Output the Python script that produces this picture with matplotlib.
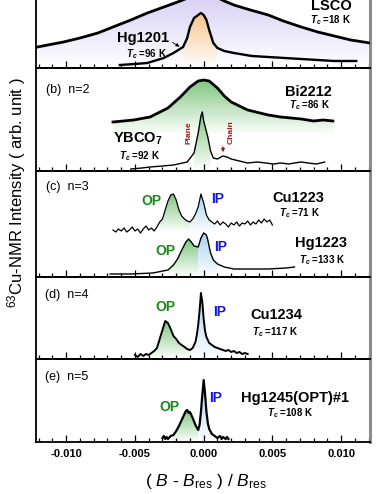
import numpy as np
import matplotlib
matplotlib.use('Agg')
import matplotlib.pyplot as plt
from matplotlib.patches import Polygon, FancyArrowPatch
from matplotlib.colors import LinearSegmentedColormap
from matplotlib.ticker import MultipleLocator

plt.rcParams['font.family'] = ['Liberation Sans', 'DejaVu Sans']
plt.rcParams['mathtext.fontset'] = 'custom'
plt.rcParams['mathtext.rm'] = 'Liberation Sans'
plt.rcParams['mathtext.it'] = 'Liberation Sans:italic'
plt.rcParams['mathtext.bf'] = 'Liberation Sans:bold'
plt.rcParams['mathtext.bfit'] = 'Liberation Sans:italic:bold'

# ---- data: x = (B - Bres)/Bres, y = intensity (arb. unit, offset per panel)
# (a) n=1
lsco_x = [-0.0121, -0.0102, -0.0090, -0.0077, -0.0066, -0.0053, -0.0041, -0.0029, -0.0017, -0.0010,
          -0.0004, 0.0000, 0.0004, 0.0009, 0.0015, 0.0022, 0.0034, 0.0047, 0.0058, 0.0071,
          0.0083, 0.0095, 0.0107, 0.0121]
lsco_y = [21, 26, 30, 35, 41, 48, 55, 61, 67, 71, 74, 75, 74, 71, 67, 63, 58, 53, 47, 41, 36, 32, 28, 25]

hg1201_x = [-0.0061, -0.0050, -0.0041, -0.0029, -0.0022, -0.0015, -0.0012, -0.0010, -0.0007, -0.0004,
            -0.0002, 0.0000, 0.0002, 0.0004, 0.0007, 0.0010, 0.0015, 0.0022, 0.0035, 0.0047,
            0.0071, 0.0095, 0.0111]
hg1201_y = [3, 4, 5, 10, 15, 21, 30, 41, 50, 53, 55, 53, 48, 38, 25, 20, 17, 15, 12, 11, 9, 7, 7]

# (b) n=2
bi2212_x = [-0.0066, -0.0051, -0.0039, -0.0026, -0.0017, -0.0010, -0.0004, 0.0000, 0.0004, 0.0010,
            0.0015, 0.0020, 0.0032, 0.0047, 0.0056, 0.0071, 0.0080, 0.0087, 0.0094]
bi2212_y = [49, 51, 54, 63, 74, 84, 90, 91, 90, 83, 75, 69, 61, 56, 54, 52, 50, 51, 50]

ybco_x = [-0.0053, -0.0045, -0.0039, -0.0030, -0.0022, -0.0012, -0.0007, -0.0004, -0.0002, -0.0001,
          0.0000, 0.0003, 0.0005, 0.0007, 0.0010, 0.0014, 0.0017, 0.0020, 0.0026, 0.0032,
          0.0039, 0.0045, 0.0051, 0.0056, 0.0062, 0.0066, 0.0071, 0.0076, 0.0082, 0.0088]
ybco_y = [2, 3, 4, 5, 6, 9, 18, 38, 55, 59, 50, 34, 20, 13, 12, 15, 14, 12, 10, 8,
          9, 8, 7, 8, 7, 8, 9, 8, 7, 9]

# (c) n=3
cu1223_x = [-0.0066, -0.0064, -0.0062, -0.0060, -0.0058, -0.0056, -0.0054, -0.0052, -0.0050, -0.0048,
            -0.0046, -0.0044, -0.0042, -0.0040, -0.0038, -0.0036, -0.0034, -0.0032, -0.0030, -0.0028,
            -0.0026, -0.0024, -0.0022, -0.0020, -0.0018, -0.0016, -0.0014, -0.0012, -0.0010, -0.0008,
            -0.0006, -0.0004, -0.0002, 0.0000, 0.0002, 0.0004, 0.0006, 0.0008, 0.0010, 0.0012,
            0.0014, 0.0016, 0.0018, 0.0020, 0.0022, 0.0024, 0.0026, 0.0028, 0.0030, 0.0032,
            0.0034, 0.0036, 0.0038, 0.0040, 0.0042, 0.0044, 0.0046, 0.0048, 0.0050]
cu1223_y = [47, 45, 48, 46, 49, 45, 47, 50, 46, 48,
            44, 48, 51, 47, 49, 46, 50, 55, 58, 67,
            76, 82, 83, 77, 67, 61, 58, 56, 55, 58,
            63, 70, 83, 74, 62, 57, 55, 53, 56, 52,
            55, 53, 50, 54, 52, 55, 51, 54, 53, 56,
            52, 55, 53, 57, 54, 58, 55, 57, 52]

hg1223_x = [-0.0068, -0.0053, -0.0037, -0.0026, -0.0022, -0.0019, -0.0017, -0.0013, -0.0011, -0.0009,
            -0.0007, -0.0004, -0.0002, 0.0000, 0.0002, 0.0003, 0.0005, 0.0007, 0.0010, 0.0015,
            0.0022, 0.0035, 0.0047, 0.0060, 0.0066]
hg1223_y = [3, 3, 4, 7, 12, 18, 24, 35, 38, 35, 31, 30, 39, 44, 42, 37, 24, 17, 13, 10, 8, 8, 8, 9, 10]

# (d) n=4
cu1234_x = [-0.0050, -0.0048, -0.0046, -0.0044, -0.0042, -0.0040, -0.0038, -0.0036, -0.0034, -0.0032,
            -0.0030, -0.0028, -0.0026, -0.0024, -0.0022, -0.0020, -0.0018, -0.0016, -0.0014, -0.0012,
            -0.0010, -0.0008, -0.0006, -0.0005, -0.0004, -0.0003, -0.0002, -0.0001, 0.0000, 0.0001,
            0.0002, 0.0004, 0.0006, 0.0008, 0.0010, 0.0012, 0.0014, 0.0016, 0.0018, 0.0020,
            0.0022, 0.0024, 0.0026, 0.0028, 0.0030, 0.0032]
cu1234_y = [4, 2, 5, 3, 5, 4, 6, 8, 11, 20,
            29, 38, 36, 30, 23, 20, 16, 14, 12, 10,
            9, 11, 17, 24, 34, 48, 66, 57, 40, 28,
            22, 16, 14, 12, 11, 10, 9, 8, 9, 7,
            8, 6, 7, 5, 6, 5]

# (e) n=5
hg1245_x = [-0.0030, -0.0029, -0.0028, -0.0027, -0.0026, -0.0024, -0.0022, -0.0020, -0.0018, -0.0016,
            -0.0014, -0.0013, -0.0012, -0.0011, -0.0010, -0.0008, -0.0006, -0.0004, -0.0003, -0.0002,
            -0.0001, 0.0000, 0.0001, 0.0002, 0.0003, 0.0004, 0.0006, 0.0008, 0.0010, 0.0012,
            0.0013, 0.0014, 0.0016, 0.0017, 0.0018]
hg1245_y = [4, 6, 3, 5, 3, 6, 7, 11, 16, 22,
            28, 31, 32, 29, 30, 24, 17, 12, 17, 30,
            47, 62, 48, 30, 19, 13, 8, 6, 4, 6,
            3, 5, 3, 5, 3]

xticks = [-0.010, -0.005, 0.000, 0.005, 0.010]
xticklabels = ['-0.010', '-0.005', '0.000', '0.005', '0.010']

# panel layout in pixels (top, bottom) of a 382x494 figure
W, H = 382, 494
left_px, right_px = 36, 370
panels = [(-32, 68), (68, 171), (171, 277), (277, 359), (359, 442)]

GREEN = '#80c680'
BLUE = '#a6d0f0'
ORANGE = '#f7c48c'
LAV = '#d6cff4'

fig = plt.figure(figsize=(W / 100, H / 100), dpi=100)
axes = []
for top, bot in panels:
    ax = fig.add_axes([left_px / W, 1 - bot / H, (right_px - left_px) / W, (bot - top) / H])
    ax.set_xlim(-0.0122, 0.0121)
    ax.set_ylim(0, bot - top)
    ax.set_yticks([])
    ax.xaxis.set_major_locator(MultipleLocator(0.005))
    ax.xaxis.set_minor_locator(MultipleLocator(0.001))
    ax.tick_params(axis='x', which='both', direction='in', bottom=True, top=False,
                   labelbottom=False, width=0.9, color='black')
    ax.tick_params(axis='x', which='major', length=5)
    ax.tick_params(axis='x', which='minor', length=3)
    for s in ['left', 'bottom', 'top']:
        ax.spines[s].set_color('black')
        ax.spines[s].set_linewidth(1.3)
    ax.spines['right'].set_color('#8c8c8c')
    ax.spines['right'].set_linewidth(2.2)
    ax.patch.set_alpha(0)
    axes.append(ax)
axes[0].spines['top'].set_visible(False)


def grad_fill(ax, x, y, lo, hi, base, color):
    x = np.asarray(x, dtype=float)
    y = np.asarray(y, dtype=float)
    m = (x >= lo) & (x <= hi)
    xs, ys = x[m], y[m]
    verts = [(xs[0], base)] + list(zip(xs, ys)) + [(xs[-1], base)]
    poly = Polygon(verts, closed=True, facecolor='none', edgecolor='none')
    ax.add_patch(poly)
    cmap = LinearSegmentedColormap.from_list('g', ['white', color])
    grad = np.linspace(0, 1, 128).reshape(-1, 1)
    im = ax.imshow(grad, extent=[xs.min(), xs.max(), base, ys.max()], origin='lower',
                   aspect='auto', cmap=cmap, zorder=1, interpolation='bilinear')
    im.set_clip_path(poly)


# (a)
ax = axes[0]
grad_fill(ax, lsco_x, lsco_y, -1, 1, 0, LAV)
grad_fill(ax, hg1201_x, hg1201_y, -0.0016, 0.0011, 0, ORANGE)
ax.plot(lsco_x, lsco_y, color='black', lw=2.0, zorder=3)
ax.plot(hg1201_x, hg1201_y, color='black', lw=1.7, zorder=3)

# (b)
ax = axes[1]
grad_fill(ax, bi2212_x, bi2212_y, -1, 1, 36, GREEN)
grad_fill(ax, ybco_x, ybco_y, -0.0009, 0.0006, 0, GREEN)
ax.plot(bi2212_x, bi2212_y, color='black', lw=2.0, zorder=3)
ax.plot(ybco_x, ybco_y, color='black', lw=1.0, zorder=3)

# (c)
ax = axes[2]
grad_fill(ax, cu1223_x, cu1223_y, -0.0032, -0.0010, 44, GREEN)
grad_fill(ax, cu1223_x, cu1223_y, -0.0010, 0.0008, 44, BLUE)
grad_fill(ax, hg1223_x, hg1223_y, -0.0026, -0.0004, 0, GREEN)
grad_fill(ax, hg1223_x, hg1223_y, -0.0004, 0.0012, 0, BLUE)
ax.plot(cu1223_x, cu1223_y, color='black', lw=0.9, zorder=3)
ax.plot(hg1223_x, hg1223_y, color='black', lw=1.0, zorder=3)

# (d)
ax = axes[3]
grad_fill(ax, cu1234_x, cu1234_y, -0.0038, -0.0008, 0, GREEN)
grad_fill(ax, cu1234_x, cu1234_y, -0.0008, 0.0012, 0, BLUE)
ax.plot(cu1234_x, cu1234_y, color='black', lw=1.4, zorder=3)

# (e)
ax = axes[4]
grad_fill(ax, hg1245_x, hg1245_y, -0.0022, -0.0004, 0, GREEN)
grad_fill(ax, hg1245_x, hg1245_y, -0.0004, 0.0006, 0, BLUE)
ax.plot(hg1245_x, hg1245_y, color='black', lw=1.6, zorder=3)

for ax in axes:
    ax.set_xlim(-0.0122, 0.0121)

axes[-1].set_xticks(xticks)
axes[-1].set_xticklabels(xticklabels)
axes[-1].tick_params(axis='x', labelbottom=True, labelsize=8, pad=5)
for lab in axes[-1].get_xticklabels():
    lab.set_fontweight('bold')


def t(px, py, s, **kw):
    fig.text(px / W, 1 - py / H, s, ha='center', va='center', **kw)


BIG = dict(fontsize=10.5, fontweight='bold')
TC = dict(fontsize=7, fontweight='bold')
PAN = dict(fontsize=9)
OPS = dict(fontsize=10, fontweight='bold', color='#178a17')
IPS = dict(fontsize=10, fontweight='bold', color='#1414e6')
TCS = r'$\mathbfit{T}_\mathbfit{c}$'

t(331, 6, 'LSCO', **BIG)
t(331, 20, TCS + ' =18 K', **TC)
t(143, 38, 'Hg1201', **BIG)
t(147, 54, TCS + ' =96 K', **TC)

t(68, 90, '(b)  n=2', **PAN)
t(308, 92, 'Bi2212', **BIG)
t(310, 105, TCS + ' =86 K', **TC)
t(138, 139, r'YBCO$_\mathbf{7}$', **BIG)
t(140, 156, TCS + ' =92 K', **TC)
t(189, 133, 'Plane', fontsize=6, fontweight='bold', color='#a01818', rotation=90)
t(231, 132, 'Chain', fontsize=6, fontweight='bold', color='#a01818', rotation=90)

t(67, 187, '(c)  n=3', **PAN)
t(151, 201, 'OP', **OPS)
t(218, 199, 'IP', **IPS)
t(298, 198, 'Cu1223', **BIG)
t(300, 213, TCS + ' =71 K', **TC)
t(165, 251, 'OP', **OPS)
t(221, 247, 'IP', **IPS)
t(321, 243, 'Hg1223', **BIG)
t(322, 260, TCS + ' =133 K', **TC)

t(67, 295, '(d)  n=4', **PAN)
t(165, 307, 'OP', **OPS)
t(220, 312, 'IP', **IPS)
t(276, 315, 'Cu1234', **BIG)
t(275, 332, TCS + ' =117 K', **TC)

t(67, 377, '(e)  n=5', **PAN)
t(169, 407, 'OP', **OPS)
t(216, 398, 'IP', **IPS)
t(295, 398, 'Hg1245(OPT)#1', **BIG)
t(290, 413, TCS + ' =108 K', **TC)

t(206, 481, r'( $B$ - $B_{\rm res}$ ) / $B_{\rm res}$', fontsize=12.5)
t(17, 193, r'$^{63}$Cu-NMR Intensity ( arb. unit )', fontsize=12, rotation=90)

# little arrows
fig.add_artist(FancyArrowPatch(
    (170 / W, 1 - 41 / H), (182 / W, 1 - 48 / H), transform=fig.transFigure,
    arrowstyle='-|>', mutation_scale=5, lw=0.6, color='black'))
fig.add_artist(FancyArrowPatch(
    (223 / W, 1 - 144 / H), (223 / W, 1 - 155 / H), transform=fig.transFigure,
    arrowstyle='-|>', mutation_scale=5, lw=0.8, color='#a01818'))

fig.savefig('out.png', dpi=100)
